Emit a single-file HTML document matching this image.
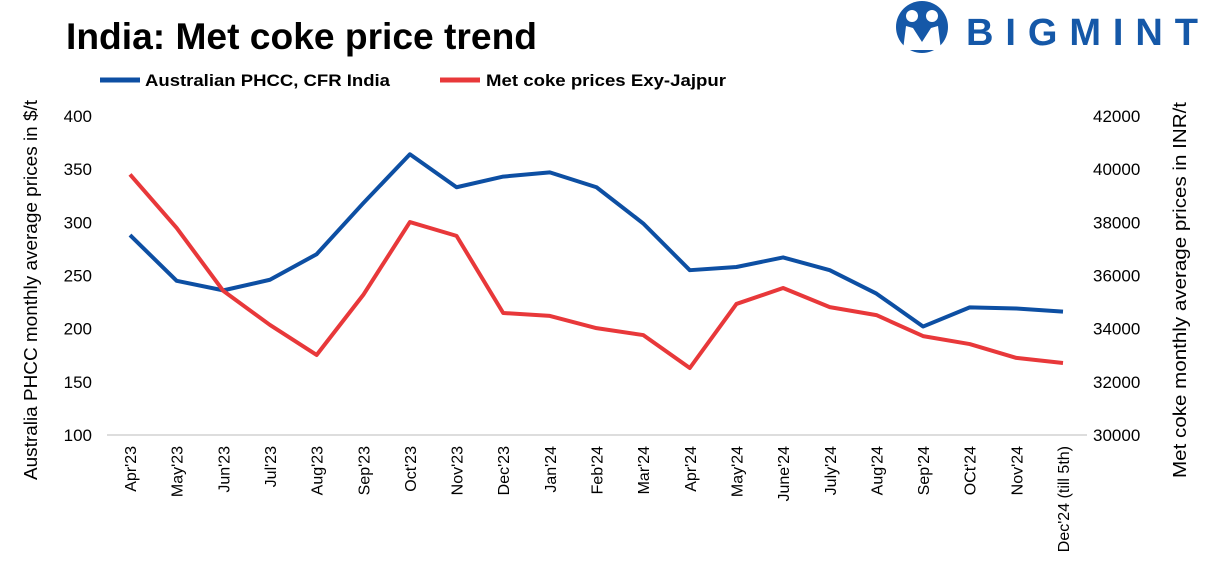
<!DOCTYPE html>
<html><head><meta charset="utf-8"><style>
body{margin:0;background:#fff;width:1209px;height:578px;overflow:hidden;font-family:"Liberation Sans",sans-serif;}
</style></head><body>
<svg width="1209" height="578" xmlns="http://www.w3.org/2000/svg">
<text x="66" y="49" font-size="37" font-weight="bold" fill="#000" textLength="471" lengthAdjust="spacingAndGlyphs">India: Met coke price trend</text>
<g>
<circle cx="922" cy="27" r="26" fill="#1558a8"/>
<circle cx="912" cy="16" r="6" fill="#fff"/><circle cx="932" cy="16" r="6" fill="#fff"/>
<path d="M903 50 L906 26 L913 28 L922 42 L931 28 L938 26 L941 50 Z" fill="#fff"/>
<text x="966" y="45" font-size="38" font-weight="bold" fill="#1558a8" textLength="232" lengthAdjust="spacing">BIGMINT</text>
</g>
<g>
<line x1="100" y1="80" x2="140" y2="80" stroke="#0d4fa3" stroke-width="5"/>
<text x="145" y="86" font-size="17" font-weight="bold" textLength="245" lengthAdjust="spacingAndGlyphs">Australian PHCC, CFR India</text>
<line x1="440" y1="80" x2="480" y2="80" stroke="#e8383a" stroke-width="5"/>
<text x="486" y="86" font-size="17" font-weight="bold" textLength="240" lengthAdjust="spacingAndGlyphs">Met coke prices Exy-Jajpur</text>
</g>
<g id="axes"></g>
<text transform="translate(37,290) rotate(-90)" font-size="18" text-anchor="middle" textLength="380" lengthAdjust="spacingAndGlyphs">Australia PHCC monthly average prices in $/t</text>
<text transform="translate(1186,290) rotate(-90)" font-size="18" text-anchor="middle" textLength="376" lengthAdjust="spacingAndGlyphs">Met coke monthly average prices in INR/t</text>
</svg>
<script>
const categories=["Apr'23","May'23","Jun'23","Jul'23","Aug'23","Sep'23","Oct'23","Nov'23","Dec'23","Jan'24","Feb'24","Mar'24","Apr'24","May'24","June'24","July'24","Aug'24","Sep'24","OCt'24","Nov'24","Dec'24 (till 5th)"];
const phcc=[288,245,236,246,270,318,364,333,343,347,333,299,255,258,267,255,233,202,220,219,216];
const metcoke=[39800,37790,35420,34140,33010,35270,38010,37490,34590,34480,34020,33760,32520,34930,35530,34810,34510,33720,33420,32900,32710];
const leftTicks=[100,150,200,250,300,350,400];
const rightTicks=[30000,32000,34000,36000,38000,40000,42000];
const NS="http://www.w3.org/2000/svg";
const g=document.getElementById('axes');
const yL=v=>435-(v-100)/300*319;
const yR=v=>435-(v-30000)/12000*319;
const xS=i=>130+i*46.65;
function mk(t,a){const e=document.createElementNS(NS,t);for(const k in a)e.setAttribute(k,a[k]);g.appendChild(e);return e;}
leftTicks.forEach(v=>{const t=mk('text',{x:92,y:yL(v)+6,'font-size':17,'text-anchor':'end'});t.textContent=v;

});
rightTicks.forEach(v=>{const t=mk('text',{x:1093,y:yR(v)+6,'font-size':17});t.textContent=v;

});
const ax=mk('line',{x1:107,x2:1087,y1:435,y2:435,stroke:'#bbb','stroke-width':1});


categories.forEach((c,i)=>{const t=mk('text',{transform:`translate(${xS(i)+6},446) rotate(-90)`,'font-size':16,'text-anchor':'end'});t.textContent=c;

});
const p1=mk('polyline',{points:phcc.map((v,i)=>xS(i)+','+yL(v)).join(' '),fill:'none',stroke:'#0d4fa3','stroke-width':4,'stroke-linejoin':'round'});


const p2=mk('polyline',{points:metcoke.map((v,i)=>xS(i)+','+yR(v)).join(' '),fill:'none',stroke:'#e8383a','stroke-width':4,'stroke-linejoin':'round'});


</script>
</body></html>
